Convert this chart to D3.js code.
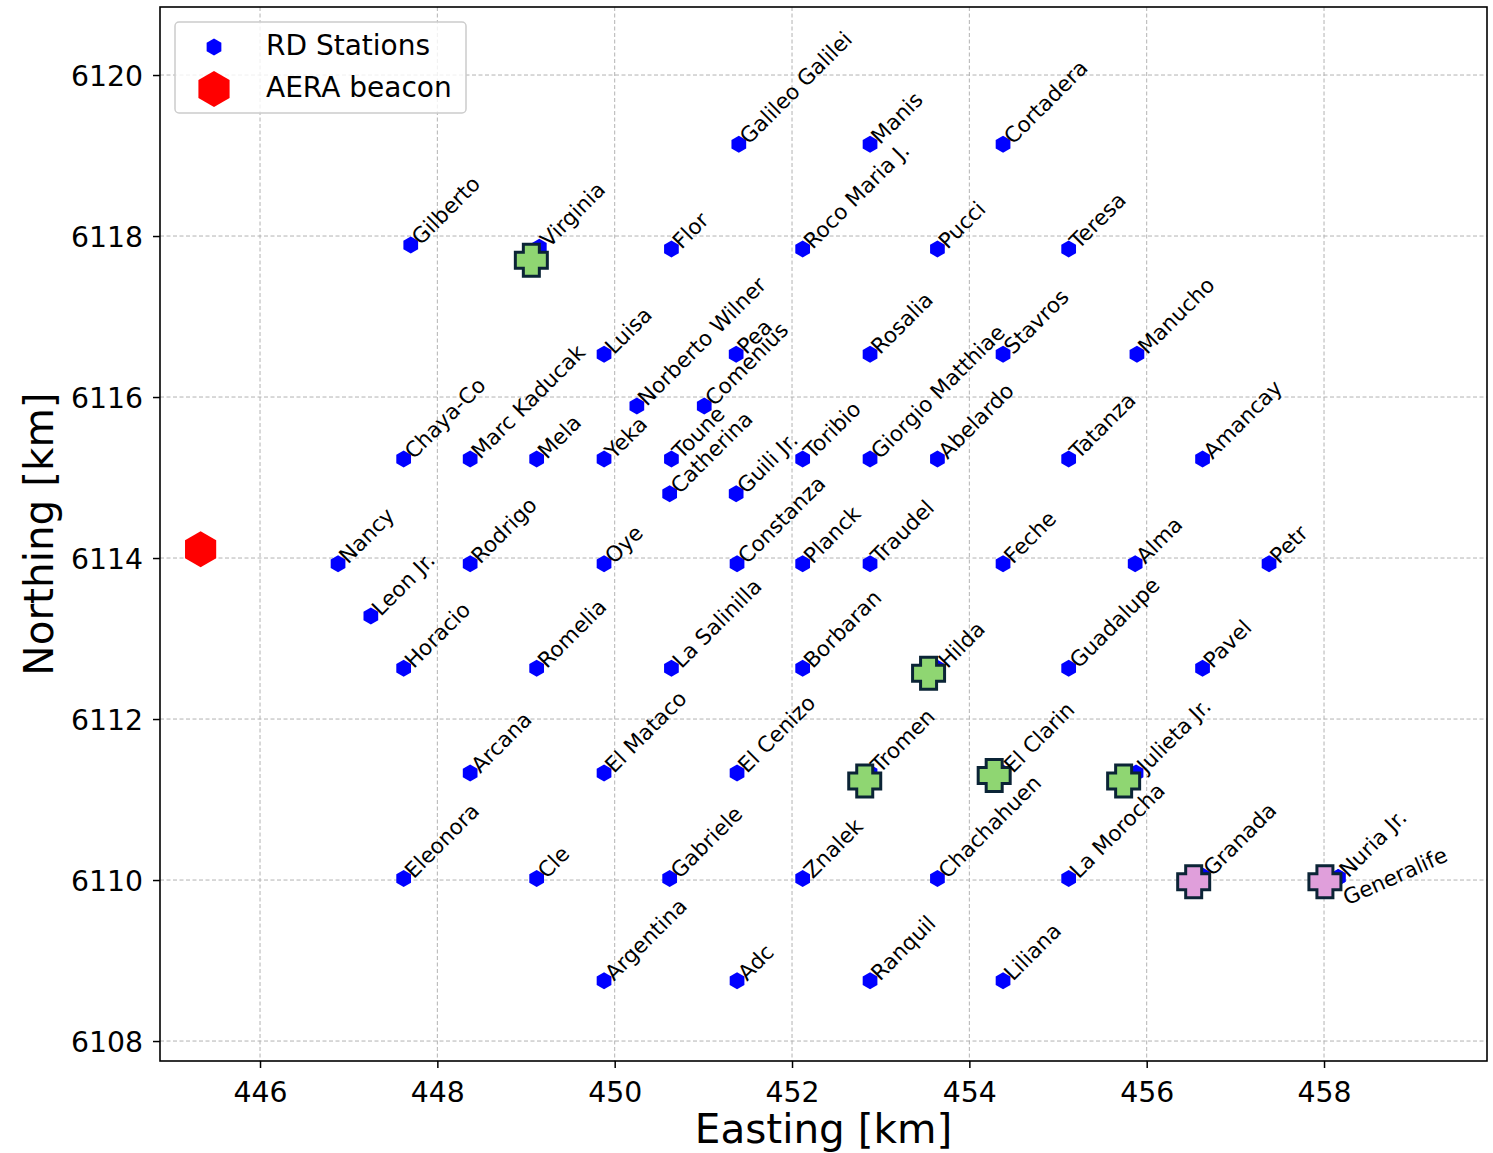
<!DOCTYPE html>
<html>
<head>
<meta charset="utf-8">
<script src="https://cdn.jsdelivr.net/npm/d3@7"></script>
<style>
  html, body { margin: 0; padding: 0; background: #fff; }
  svg { display: block; font-family: "DejaVu Sans", sans-serif; }
</style>
</head>
<body>
<svg id="chart" width="1493" height="1153"></svg>
<script>
// Radio-detector stations (easting / northing in km)
const stationNames = [
  "Galileo Galilei", "Manis", "Cortadera",
  "Gilberto", "Virginia", "Flor", "Roco Maria J.", "Pucci", "Teresa",
  "Luisa", "Pea", "Rosalia", "Stavros", "Manucho",
  "Norberto Wilner", "Comenius",
  "Chaya-Co", "Marc Kaducak", "Mela", "Yeka", "Toune", "Toribio", "Giorgio Matthiae", "Abelardo", "Tatanza", "Amancay",
  "Catherina", "Guili Jr.",
  "Nancy", "Rodrigo", "Oye", "Constanza", "Planck", "Traudel", "Feche", "Alma", "Petr",
  "Leon Jr.",
  "Horacio", "Romelia", "La Salinilla", "Borbaran", "Hilda", "Guadalupe", "Pavel",
  "Arcana", "El Mataco", "El Cenizo", "Tromen", "El Clarin", "Julieta Jr.",
  "Eleonora", "Cle", "Gabriele", "Znalek", "Chachahuen", "La Morocha", "Granada", "Nuria Jr.", "Generalife",
  "Argentina", "Adc", "Ranquil", "Liliana"
];
const stationEasting = [
  451.40, 452.88, 454.38,
  447.70, 449.15, 450.64, 452.12, 453.64, 455.12,
  449.88, 451.37, 452.88, 454.38, 455.89,
  450.25, 451.01,
  447.62, 448.37, 449.12, 449.88, 450.64, 452.12, 452.88, 453.64, 455.12, 456.63,
  450.62, 451.37,
  446.88, 448.37, 449.88, 451.38, 452.12, 452.88, 454.38, 455.87, 457.38,
  447.25,
  447.62, 449.12, 450.64, 452.12, 453.64, 455.12, 456.63,
  448.37, 449.88, 451.38, 452.88, 454.38, 455.88,
  447.62, 449.12, 450.62, 452.12, 453.64, 455.12, 456.63, 458.16, 458.16,
  449.88, 451.38, 452.88, 454.38
];
const stationNorthing = [
  6119.14, 6119.14, 6119.14,
  6117.89, 6117.86, 6117.84, 6117.84, 6117.84, 6117.84,
  6116.53, 6116.53, 6116.53, 6116.53, 6116.53,
  6115.89, 6115.89,
  6115.23, 6115.23, 6115.23, 6115.23, 6115.23, 6115.23, 6115.23, 6115.23, 6115.23, 6115.23,
  6114.80, 6114.80,
  6113.93, 6113.93, 6113.93, 6113.93, 6113.93, 6113.93, 6113.93, 6113.93, 6113.93,
  6113.28,
  6112.63, 6112.63, 6112.63, 6112.63, 6112.63, 6112.63, 6112.63,
  6111.33, 6111.33, 6111.33, 6111.33, 6111.33, 6111.33,
  6110.02, 6110.02, 6110.02, 6110.02, 6110.02, 6110.02, 6110.05, 6110.03, 6110.03,
  6108.75, 6108.75, 6108.75, 6108.75
];

// Beacon position
const beaconEasting = [445.33];
const beaconNorthing = [6114.11];

// Highlighted detectors (plus markers), two groups
const greenEasting  = [449.06, 453.54, 452.82, 454.28, 455.74];
const greenNorthing = [6117.70, 6112.57, 6111.23, 6111.30, 6111.23];
const pinkEasting   = [456.53, 458.01];
const pinkNorthing  = [6109.98, 6109.98];

// Axis ticks
const xTicks = [446, 448, 450, 452, 454, 456, 458];
const yTicks = [6108, 6110, 6112, 6114, 6116, 6118, 6120];
const xLabel = "Easting [km]";
const yLabel = "Northing [km]";
const legendLabels = ["RD Stations", "AERA beacon"];

const svg = d3.select("#chart");
const plot = { left: 160, right: 1487, top: 7, bottom: 1061 };

const x = d3.scaleLinear().domain([444.872, 459.838]).range([plot.left, plot.right]);
const y = d3.scaleLinear().domain([6107.752, 6120.845]).range([plot.bottom, plot.top]);

// pointy-top hexagon
function hexPath(r) {
  const pts = d3.range(6).map(i => {
    const a = Math.PI / 2 + i * Math.PI / 3;
    return [r * Math.cos(a), -r * Math.sin(a)];
  });
  return "M" + pts.map(p => p.join(",")).join("L") + "Z";
}
// filled plus
function plusPath(s, a) {
  const p = [[-a,-s],[a,-s],[a,-a],[s,-a],[s,a],[a,a],[a,s],[-a,s],[-a,a],[-s,a],[-s,-a],[-a,-a]];
  return "M" + p.map(q => q.join(",")).join("L") + "Z";
}

// grid
const grid = svg.append("g").attr("class", "grid");
grid.selectAll("line.gx").data(xTicks).join("line")
  .attr("x1", d => x(d)).attr("x2", d => x(d))
  .attr("y1", plot.top).attr("y2", plot.bottom)
  .attr("stroke", "#b3b3b3").attr("stroke-width", 1).attr("stroke-dasharray", "4,2.5");
grid.selectAll("line.gy").data(yTicks).join("line")
  .attr("y1", d => y(d)).attr("y2", d => y(d))
  .attr("x1", plot.left).attr("x2", plot.right)
  .attr("stroke", "#b3b3b3").attr("stroke-width", 1).attr("stroke-dasharray", "4,2.5");

// axes
const xAxis = d3.axisBottom(x).tickValues(xTicks).tickSize(7).tickPadding(8).tickFormat(d3.format("d"));
const yAxis = d3.axisLeft(y).tickValues(yTicks).tickSize(7).tickPadding(10).tickFormat(d3.format("d"));

const gx = svg.append("g").attr("transform", `translate(0,${plot.bottom})`).call(xAxis);
const gy = svg.append("g").attr("transform", `translate(${plot.left},0)`).call(yAxis);
[gx, gy].forEach(g => {
  g.select(".domain").remove();
  g.selectAll(".tick line").attr("stroke", "#000").attr("stroke-width", 1.5);
  g.selectAll(".tick text").attr("fill", "#000").attr("font-size", 28.3)
    .attr("font-family", "DejaVu Sans, sans-serif");
});
gx.selectAll(".tick text").attr("dy", "0.92em");
gy.selectAll(".tick text").attr("dy", "0.36em");

// frame
svg.append("rect")
  .attr("x", plot.left).attr("y", plot.top)
  .attr("width", plot.right - plot.left).attr("height", plot.bottom - plot.top)
  .attr("fill", "none").attr("stroke", "#000").attr("stroke-width", 1.6);

// axis titles
svg.append("text").attr("x", (plot.left + plot.right) / 2).attr("y", 1143)
  .attr("text-anchor", "middle").attr("font-size", 40.5).text(xLabel);
svg.append("text")
  .attr("transform", `translate(53,${(plot.top + plot.bottom) / 2}) rotate(-90)`)
  .attr("text-anchor", "middle").attr("font-size", 40.5).text(yLabel);

// stations
const stations = stationNames.map((n, i) => ({ name: n, e: stationEasting[i], n: stationNorthing[i] }));
const marks = svg.append("g");
marks.selectAll("path.st").data(stations).join("path")
  .attr("class", "st")
  .attr("d", hexPath(8.5))
  .attr("transform", d => `translate(${x(d.e)},${y(d.n)})`)
  .attr("fill", "#0000ff");

// beacon
marks.selectAll("path.bc").data(beaconEasting).join("path")
  .attr("class", "bc")
  .attr("d", hexPath(18))
  .attr("transform", (d, i) => `translate(${x(d)},${y(beaconNorthing[i])})`)
  .attr("fill", "#ff0000");

// highlighted detectors
function plusGroup(es, ns, fill) {
  marks.append("g").selectAll("path").data(es).join("path")
    .attr("d", plusPath(16, 8))
    .attr("transform", (d, i) => `translate(${x(d)},${y(ns[i])})`)
    .attr("fill", fill).attr("stroke", "#0b2436").attr("stroke-width", 3)
    .attr("stroke-linejoin", "miter");
}
plusGroup(greenEasting, greenNorthing, "#8fd672");
plusGroup(pinkEasting, pinkNorthing, "#e09fdb");

// station names
const labelStyle = { Generalife: { dx: 9, dy: 28, angle: -24 } };
svg.append("g").selectAll("text").data(stations).join("text")
  .attr("font-size", 21.5)
  .attr("fill", "#000")
  .attr("transform", d => {
    const st = labelStyle[d.name] || { dx: 10, dy: 1, angle: -45 };
    return `translate(${x(d.e) + st.dx},${y(d.n) + st.dy}) rotate(${st.angle})`;
  })
  .text(d => d.name);

// legend
const lg = svg.append("g");
lg.append("rect").attr("x", 175).attr("y", 22).attr("width", 291).attr("height", 91)
  .attr("rx", 4).attr("fill", "#fff").attr("fill-opacity", 0.8)
  .attr("stroke", "#cccccc").attr("stroke-width", 1.5);
lg.append("path").attr("d", hexPath(8.5)).attr("transform", "translate(214,47)").attr("fill", "#0000ff");
lg.append("path").attr("d", hexPath(18)).attr("transform", "translate(214,89)").attr("fill", "#ff0000");
lg.selectAll("text").data(legendLabels).join("text")
  .attr("x", 266).attr("y", (d, i) => 55 + i * 42)
  .attr("font-size", 28).text(d => d);
</script>
</body>
</html>
